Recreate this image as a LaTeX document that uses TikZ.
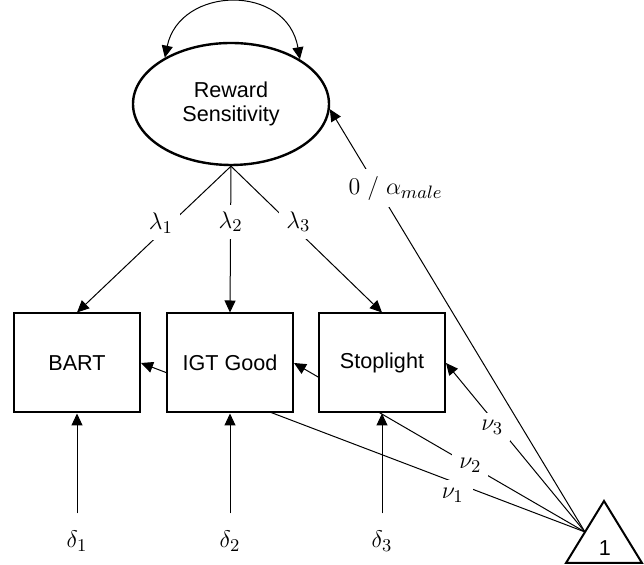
\documentclass[tikz,border=0pt]{standalone}
\usepackage[no-math]{fontspec}
\setmainfont{Liberation Sans}
\usepackage{tikz}
\usetikzlibrary{shapes.geometric, positioning, arrows.meta, backgrounds}

\begin{document}
\begin{tikzpicture}[x=0.5pt, y=-0.5pt,
    font=\fontsize{10.8}{11.8}\selectfont,
    latent/.style={draw, ellipse, line width=1.2pt, fill=white, minimum width=98pt, minimum height=61pt, align=center},
    obs/.style={draw, line width=1pt, fill=white, minimum width=63pt, minimum height=49.5pt},
    link/.style={-{Triangle[length=6pt,width=5.5pt]}, line width=0.5pt},
    coef/.style={fill=white, inner sep=3.5pt, font=\fontsize{12.5}{15}\selectfont}]
    \useasboundingbox (0,0) rectangle (644,565);

    % Latent factor
    \node[latent] (rs) at (231,104) {Reward\\Sensitivity};
    \draw[{Triangle[length=6pt,width=5.5pt]}-{Triangle[length=6pt,width=5.5pt]}, line width=0.5pt]
        (rs.145) .. controls +(15,-72) and +(-13,-76) .. (rs.33);

    % Indicators
    \node[obs] (igt) at (230,363) {IGT Good};
    \node[obs, left=12.5pt of igt] (bart) {BART};
    \node[obs, right=12pt of igt] (stop) {Stoplight};

    % Loadings
    \draw[link] (rs.south) -- node[coef, pos=0.39, xshift=-5pt] {$\lambda_1$} (bart.north);
    \draw[link] (rs.south) -- node[coef, pos=0.38] {$\lambda_2$} (igt.north);
    \draw[link] (rs.south) -- node[coef, pos=0.38, xshift=5pt] {$\lambda_3$} (stop.north);

    % Residuals
    \foreach \nm/\idx in {bart/1, igt/2, stop/3} {
        \node[coef, below=55pt of \nm] (d\idx) {$\delta_\idx$};
        \draw[link, shorten <=5pt] (d\idx) -- (\nm);
    }

    % Mean structure
    \draw[line width=1pt] (566,563) -- (604,501) -- (642,563) -- cycle;
    \node (one) at (605,548) {1};
    \coordinate (tri) at (585,532);

    \draw[link] (tri) -- node[coef, pos=0.813, xshift=9pt] {$0\ /\ \alpha_{male}$} (rs.-3);
    \draw[link] (tri) -- node[coef, pos=0.667, yshift=-4pt] {$\nu_3$} (stop.east);
    \begin{scope}[on background layer]
        \draw[link] (tri) -- node[coef, pos=0.298, yshift=-7pt, inner sep=4.5pt] {$\nu_1$} (bart.east);
        \draw[link] (tri) -- node[coef, pos=0.394] {$\nu_2$} (igt.east);
    \end{scope}
\end{tikzpicture}
\end{document}
